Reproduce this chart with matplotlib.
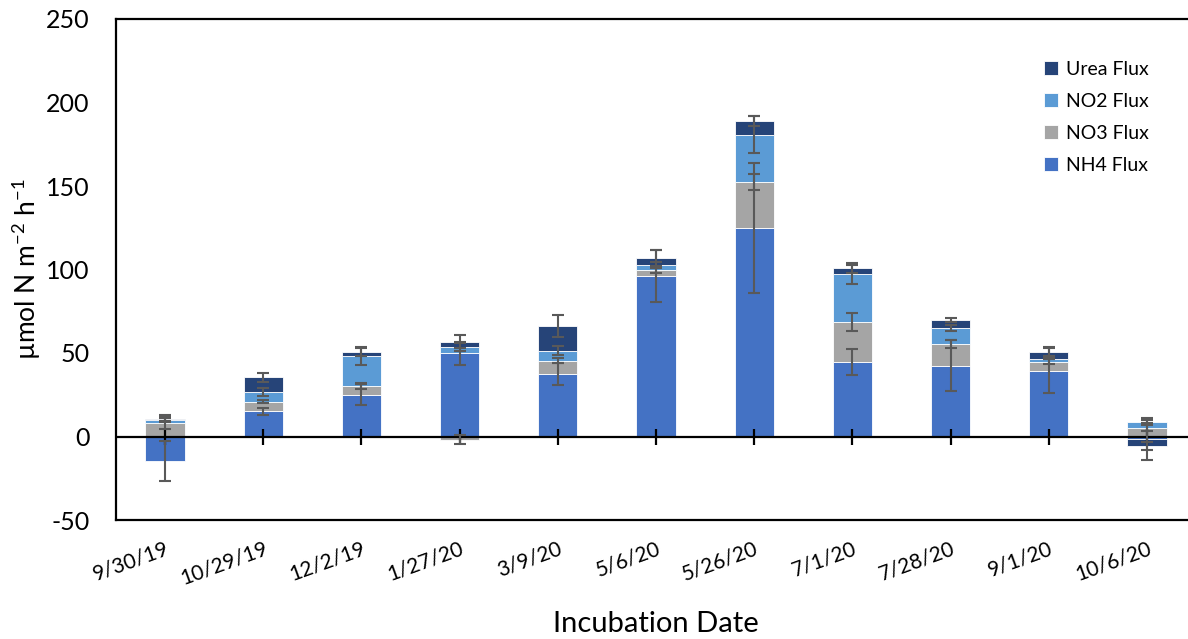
import numpy as np
import matplotlib
matplotlib.use("Agg")
import matplotlib.pyplot as plt

plt.rcParams['font.family'] = ['Lato', 'DejaVu Sans']
plt.rcParams['mathtext.default'] = 'regular'
plt.rcParams['axes.unicode_minus'] = False

dates = ['9/30/19', '10/29/19', '12/2/19', '1/27/20', '3/9/20', '5/6/20',
         '5/26/20', '7/1/20', '7/28/20', '9/1/20', '10/6/20']

# flux per species (umol N m-2 h-1) and their error magnitudes
nh4 = [-14.4, 15.0, 25.1, 49.8, 37.5, 95.9, 124.6, 44.4, 42.5, 39.5, -1.6]
no3 = [8.0, 5.9, 5.0, -1.8, 8.0, 3.8, 27.7, 24.4, 12.9, 5.4, 5.0]
no2 = [2.0, 5.6, 18.0, 4.0, 5.9, 3.0, 28.5, 28.3, 9.6, 1.8, 3.9]
urea = [0.6, 9.0, 2.6, 3.0, 15.0, 4.1, 8.0, 3.8, 4.8, 4.1, -4.1]

nh4_err = [12.0, 2.3, 6.2, 6.8, 6.4, 15.5, 38.9, 7.8, 15.2, 13.6, 12.6]
no3_err = [3.4, 1.0, 1.7, 2.7, 1.6, 2.0, 4.6, 5.4, 2.5, 1.4, 1.6]
no2_err = [0.8, 2.5, 5.1, 2.4, 2.6, 2.0, 11.2, 5.6, 1.9, 0.5, 1.0]
urea_err = [2.0, 2.8, 2.7, 4.0, 6.6, 5.0, 3.0, 2.7, 1.3, 2.5, 2.5]

series = [('NH4 Flux', nh4, nh4_err, '#4472C4'),
          ('NO3 Flux', no3, no3_err, '#A5A5A5'),
          ('NO2 Flux', no2, no2_err, '#5B9BD5'),
          ('Urea Flux', urea, urea_err, '#264478')]

fig = plt.figure(figsize=(11.88, 6.39), dpi=100)
ax = fig.add_axes([116 / 1188, 119 / 639, 1080 / 1188, 501 / 639])

x = np.arange(len(dates))
pos_base = np.zeros(len(dates))
neg_base = np.zeros(len(dates))
handles = []
ends = []
for name, vals, errs, color in series:
    v = np.array(vals)
    bottom = np.where(v >= 0, pos_base, neg_base)
    h = ax.bar(x, v, 0.4, bottom=bottom, color=color, edgecolor='white',
               linewidth=0.6, label=name, zorder=2)
    handles.append(h)
    top = bottom + v
    ends.append((top, errs))
    pos_base = np.where(v >= 0, top, pos_base)
    neg_base = np.where(v < 0, top, neg_base)

# error bars sit at the end of each stacked segment
for top, errs in ends:
    ax.errorbar(x, top, yerr=errs, fmt='none', ecolor='#595959',
                elinewidth=1.5, capsize=4.2, capthick=1.5, zorder=4)

# horizontal axis at zero with cross tick marks
ax.axhline(0, color='black', lw=1.6, zorder=3)
ax.plot(x, np.zeros(len(x)), ls='none', marker='|', ms=11, mew=1.6,
        color='black', zorder=3)

ax.set_xlim(-0.5, len(dates) - 0.5)
ax.set_ylim(-50, 250)
ax.set_yticks(np.arange(-50, 251, 50))
ax.set_xticks(x)
ax.set_xticklabels(dates, rotation=20, ha='right', rotation_mode='anchor',
                   fontsize=15)
ax.tick_params(axis='x', length=0, pad=13)
ax.tick_params(axis='y', length=0, pad=19, labelsize=18)

for side in ['left', 'top', 'bottom']:
    ax.spines[side].set_linewidth(1.6)
    ax.spines[side].set_color('black')
ax.spines['right'].set_visible(False)

ax.set_ylabel(r'µmol N m$^{-2}$ h$^{-1}$', fontsize=19, va='center')
ax.yaxis.set_label_coords(-0.0824, 0.5)
ax.set_xlabel('Incubation Date', fontsize=21, va='center')
ax.xaxis.set_label_coords(0.5, -0.2076)

ax.legend(handles[::-1], [s[0] for s in series][::-1], loc='upper left',
          bbox_to_anchor=(1034 / 1188, 1 - 51 / 639),
          bbox_transform=fig.transFigure, frameon=False, fontsize=14,
          borderpad=0, handlelength=0.72, handleheight=0.72,
          handletextpad=0.45, labelspacing=0.78)

fig.savefig('out.png', dpi=100)
